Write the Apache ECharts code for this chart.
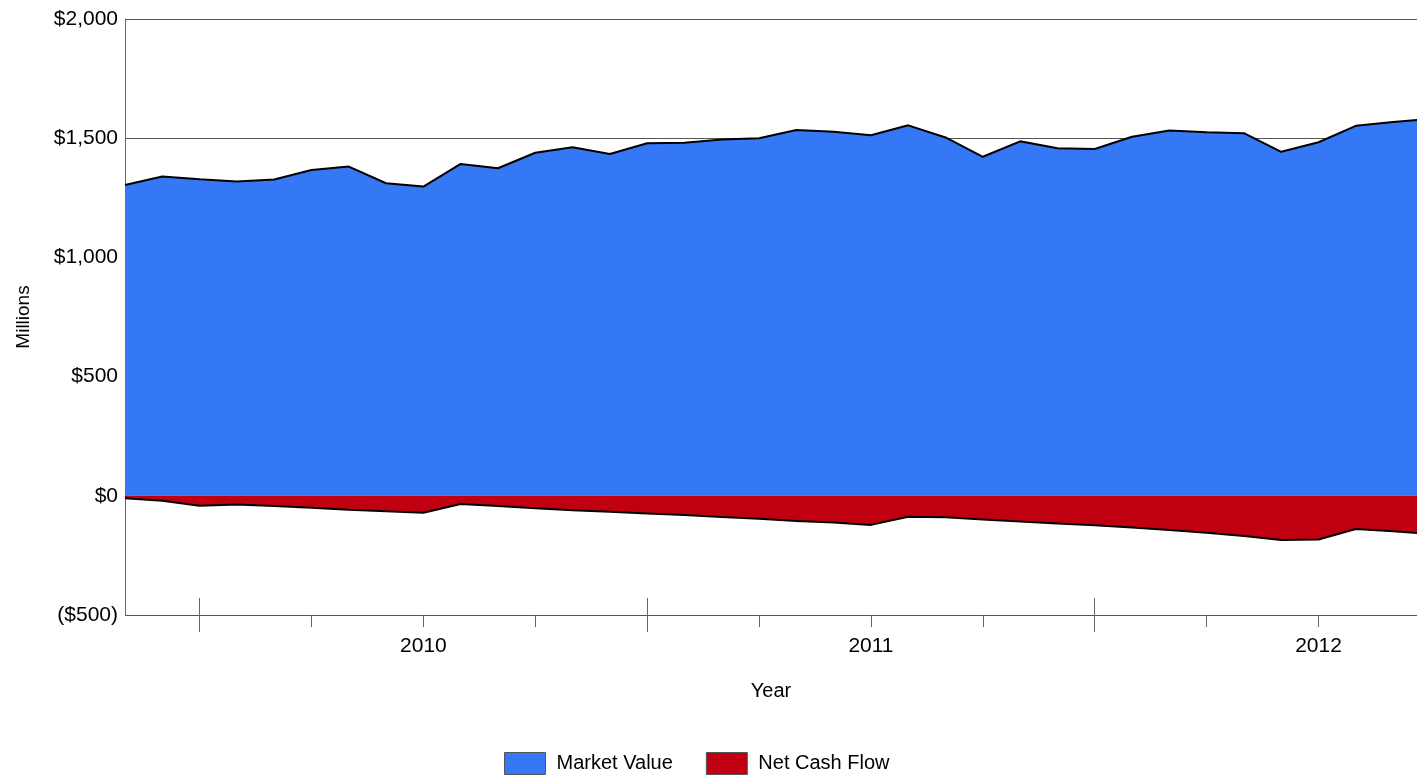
<!DOCTYPE html>
<html lang="en">

<head>
    <meta charset="UTF-8">
    <title>Market Value vs Net Cash Flow</title>
    <style>
        * {
            margin: 0;
            padding: 0;
            box-sizing: border-box;
        }

        html,
        body {
            height: 100%;
            background: #fff;
        }

        #box {
            width: 1417px;
            height: 776px;
        }
    </style>
    <script src="https://cdn.jsdelivr.net/npm/echarts@6/dist/echarts.min.js"></script>
</head>

<body>
    <div id="box"></div>

    <script>
        // monthly points, Nov 2009 .. Oct 2012 (last one is cut by the plot edge)
        var months = ['2009-11', '2009-12', '2010-01', '2010-02', '2010-03', '2010-04', '2010-05', '2010-06',
            '2010-07', '2010-08', '2010-09', '2010-10', '2010-11', '2010-12', '2011-01', '2011-02',
            '2011-03', '2011-04', '2011-05', '2011-06', '2011-07', '2011-08', '2011-09', '2011-10',
            '2011-11', '2011-12', '2012-01', '2012-02', '2012-03', '2012-04', '2012-05', '2012-06',
            '2012-07', '2012-08', '2012-09', '2012-10'];
        var marketValue = [1304, 1339, 1328, 1318, 1327, 1367, 1381, 1311, 1297, 1392, 1374, 1439,
            1462, 1434, 1479, 1481, 1495, 1500, 1534, 1527, 1512, 1554, 1503, 1422,
            1487, 1458, 1455, 1506, 1532, 1525, 1521, 1443, 1483, 1552, 1568, 1581];
        var netCashFlow = [-10, -21, -42, -36, -43, -50, -58, -65, -71, -34, -43, -52,
            -61, -67, -74, -81, -89, -96, -106, -112, -122, -88, -90, -99,
            -108, -116, -124, -133, -143, -155, -169, -185, -183, -139, -149, -160];

        // x axis: year labels sit mid-year, long ticks at year starts, short ticks each quarter
        var yearLabels = { '2010-07': '2010', '2011-07': '2011', '2012-07': '2012' };
        var yearStarts = ['2010-01', '2011-01', '2012-01'];
        var quarterTicks = ['2010-04', '2010-07', '2010-10', '2011-04', '2011-07', '2011-10',
            '2012-04', '2012-07'];
        var xMax = 34.64;

        function pos(m) {
            return months.indexOf(m);
        }
        function pairs(arr) {
            return arr.map(function (v, i) { return [i, v]; });
        }

        var font = '"Liberation Sans", Arial, sans-serif';
        var axisGray = '#666';

        var myChart = echarts.init(document.getElementById('box'));

        var labelPos = Object.keys(yearLabels).map(pos);

        // overlay axes only used to draw tick marks
        function tickAxis(values, inside, len) {
            return {
                type: 'value', min: 0, max: xMax, position: 'bottom', offset: 0,
                axisLine: { show: false },
                axisLabel: { show: false },
                splitLine: { show: false },
                axisTick: {
                    show: true, inside: inside, length: len,
                    customValues: values.map(pos),
                    lineStyle: { color: axisGray, width: 1 }
                }
            };
        }

        myChart.setOption({
            animation: false,
            textStyle: { fontFamily: font },
            grid: { left: 125, right: 0, top: 19, bottom: 161, containLabel: false, outerBoundsMode: 'none' },
            legend: {
                top: 747,
                left: 499,
                icon: 'rect',
                itemWidth: 41,
                itemHeight: 22,
                itemGap: 33,
                itemStyle: { borderColor: '#555', borderWidth: 1 },
                textStyle: { fontSize: 20, color: '#000', fontFamily: font, padding: [0, 0, 0, 6] },
                data: ['Market Value', 'Net Cash Flow']
            },
            xAxis: [{
                type: 'value',
                min: 0,
                max: xMax,
                name: 'Year',
                nameLocation: 'middle',
                nameGap: 66,
                nameTextStyle: { fontSize: 20, color: '#000', fontFamily: font },
                axisLine: { lineStyle: { color: axisGray, width: 1 } },
                axisTick: { show: false },
                axisLabel: {
                    customValues: labelPos,
                    margin: 21,
                    fontSize: 21,
                    color: '#000',
                    formatter: function (v) {
                        return yearLabels[months[Math.round(v)]] || '';
                    }
                },
                splitLine: { show: false }
            },
            tickAxis(quarterTicks, false, 12),
            tickAxis(yearStarts, false, 17),
            tickAxis(yearStarts, true, 17)],
            yAxis: {
                type: 'value',
                min: -500,
                max: 2000,
                interval: 500,
                name: 'Millions',
                nameLocation: 'middle',
                nameGap: 92,
                nameRotate: 90,
                nameTextStyle: { fontSize: 19, color: '#000', fontFamily: font },
                axisLine: { show: true, lineStyle: { color: axisGray, width: 1 } },
                axisTick: { show: false },
                axisLabel: {
                    margin: 7,
                    fontSize: 21,
                    color: '#000',
                    formatter: function (v) {
                        var s = '$' + Math.abs(v).toLocaleString('en-US');
                        return v < 0 ? '(' + s + ')' : s;
                    }
                },
                splitLine: { show: true, lineStyle: { color: '#555', width: 1 } }
            },
            series: [
                {
                    name: 'Market Value',
                    type: 'line',
                    data: pairs(marketValue),
                    symbol: 'none',
                    clip: true,
                    itemStyle: { color: '#3478f5' },
                    lineStyle: { color: '#000', width: 2 },
                    areaStyle: { color: '#3478f5', opacity: 1, origin: 0 }
                },
                {
                    name: 'Net Cash Flow',
                    type: 'line',
                    data: pairs(netCashFlow),
                    symbol: 'none',
                    clip: true,
                    itemStyle: { color: '#c00010' },
                    lineStyle: { color: '#000', width: 2 },
                    areaStyle: { color: '#c00010', opacity: 1, origin: 0 }
                }
            ]
        });

        window.onresize = function () {
            myChart.resize();
        }
    </script>
</body>

</html>
